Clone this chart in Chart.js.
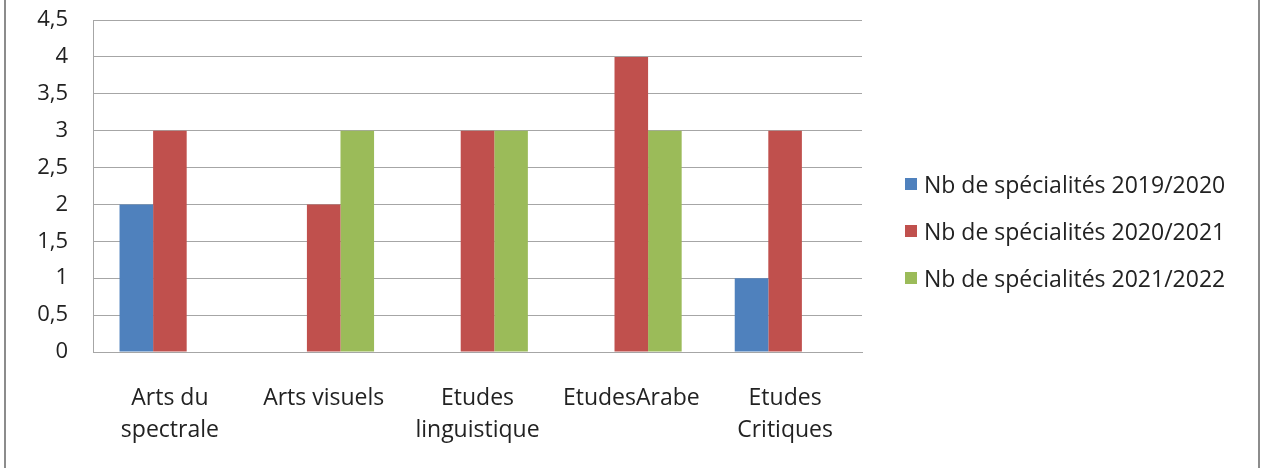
<!DOCTYPE html>
<html>
<head>
<meta charset="utf-8">
<script src="https://cdn.jsdelivr.net/npm/chart.js@4"></script>
<style>
    body { margin: 0; background: #fff; }
    #wrap { position: relative; width: 1261px; height: 468px; }
    #frameL, #frameR { position: absolute; top: 0; width: 2px; height: 468px; background: #8c8c8c; }
    #frameL { left: 4px; }
    #frameR { left: 1258px; }
    #legend { position: absolute; left: 905px; top: 160px; font-family: 'Open Sans', sans-serif; font-size: 23px; color: #222; }
    .item { height: 47px; display: flex; align-items: center; white-space: nowrap; }
    .box { width: 12px; height: 12px; margin-right: 7px; }
</style>
</head>
<body>
<div id="wrap">
    <canvas id="grafico" width="1261" height="468"></canvas>
    <div id="frameL"></div>
    <div id="frameR"></div>
    <div id="legend"></div>
</div>
<script>
const categorias = [['Arts du', 'spectrale'], 'Arts visuels', ['Etudes', 'linguistique'], 'EtudesArabe', ['Etudes', 'Critiques']];
const nomesSeries = ['Nb de spécialités 2019/2020', 'Nb de spécialités 2020/2021', 'Nb de spécialités 2021/2022'];
const valores2019 = [2, 0, 0, 0, 1];
const valores2020 = [3, 2, 3, 4, 3];
const valores2021 = [0, 3, 3, 3, 0];
const ticksY = ['0', '0,5', '1', '1,5', '2', '2,5', '3', '3,5', '4', '4,5'];
const cores = ['#4F81BD', '#C0504D', '#9BBB59'];

const fonte = { family: "'Open Sans', sans-serif", size: 22 };

const ctx = document.getElementById('grafico');
const myChart = new Chart(ctx, {
    type: 'bar',
    data: {
        labels: categorias,
        datasets: [
            { label: nomesSeries[0], data: valores2019, backgroundColor: cores[0] },
            { label: nomesSeries[1], data: valores2020, backgroundColor: cores[1] },
            { label: nomesSeries[2], data: valores2021, backgroundColor: cores[2] }
        ]
    },
    options: {
        responsive: false,
        animation: false,
        barPercentage: 1,
        categoryPercentage: 0.655,
        layout: { padding: { top: 20, right: 399, left: 0, bottom: 0 } },
        plugins: {
            legend: { display: false },
            tooltip: { enabled: false }
        },
        scales: {
            x: {
                grid: { display: false, drawTicks: false },
                border: { color: '#a6a6a6', width: 1 },
                ticks: { font: { ...fonte, size: 23, lineHeight: 1.4 }, color: '#222', padding: 30, maxRotation: 0, autoSkip: false },
                afterFit: function (scale) { scale.height = 116; }
            },
            y: {
                min: 0,
                max: 4.5,
                grid: { color: '#a6a6a6', drawTicks: false },
                border: { color: '#a6a6a6', width: 1 },
                ticks: {
                    stepSize: 0.5,
                    font: fonte,
                    color: '#222',
                    padding: 25,
                    callback: function (value, index) { return ticksY[index]; }
                },
                afterFit: function (scale) {
                    scale.width = 93;
                    scale.paddingTop = 0;
                    scale.paddingBottom = 0;
                }
            }
        }
    }
});

// legenda em HTML
const legenda = document.getElementById('legend');
myChart.data.datasets.forEach(function (ds) {
    const item = document.createElement('div');
    item.className = 'item';
    const box = document.createElement('span');
    box.className = 'box';
    box.style.background = ds.backgroundColor;
    const txt = document.createElement('span');
    txt.innerText = ds.label;
    item.appendChild(box);
    item.appendChild(txt);
    legenda.appendChild(item);
});
</script>
</body>
</html>
